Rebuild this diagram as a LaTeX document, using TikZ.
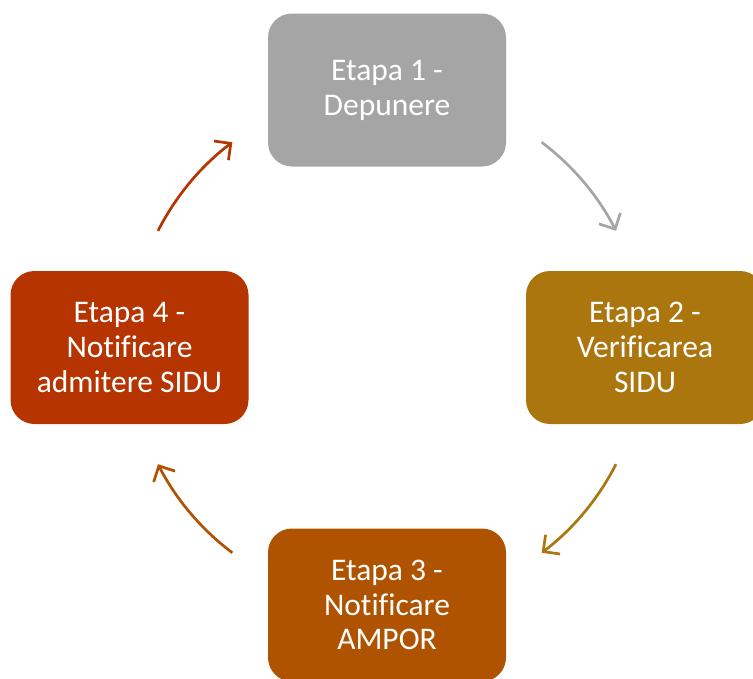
\documentclass[tikz,border=0pt]{standalone}
\usepackage{fontspec}
\setmainfont{Carlito}[Ligatures=NoCommon]
\usetikzlibrary{calc,arrows.meta}
\definecolor{gri}{HTML}{A5A5A5}
\definecolor{aur}{HTML}{AC760F}
\definecolor{maro}{HTML}{B05300}
\definecolor{rosu}{HTML}{B53400}

\begin{document}
\begin{tikzpicture}[x=1pt,y=-1pt,
    etapa/.style={rounded corners=24pt, minimum width=238pt, minimum height=153pt,
        text=white, align=center, font=\fontsize{31.5}{34.8}\selectfont},
    sageata/.style={line width=2.7pt, -{Straight Barb[length=12pt,width=24pt]}}]
    \useasboundingbox (0,0) rectangle (753,678);
    \def\rad{257}
    \coordinate (M) at (387,347.5);
    \node[etapa, fill=gri] (E1) at (387,90) {Etapa 1 -\\Depunere};
    \node[etapa, fill=aur] (E2) at (645,347.5) {Etapa 2 -\\Verificarea\\SIDU};
    \node[etapa, fill=maro] (E3) at (387,605) {Etapa 3 -\\Notificare\\AMPOR};
    \node[etapa, fill=rosu] (E4) at (129.5,347.5) {Etapa 4 -\\Notificare\\admitere SIDU};
    \draw[sageata, gri] ($(M)+(-53:\rad)$) arc[start angle=-53, end angle=-27, radius=\rad];
    \draw[sageata, aur] ($(M)+(27:\rad)$) arc[start angle=27, end angle=53, radius=\rad];
    \draw[sageata, maro] ($(M)+(127:\rad)$) arc[start angle=127, end angle=153, radius=\rad];
    \draw[sageata, rosu] ($(M)+(207:\rad)$) arc[start angle=207, end angle=233, radius=\rad];
\end{tikzpicture}
\end{document}
